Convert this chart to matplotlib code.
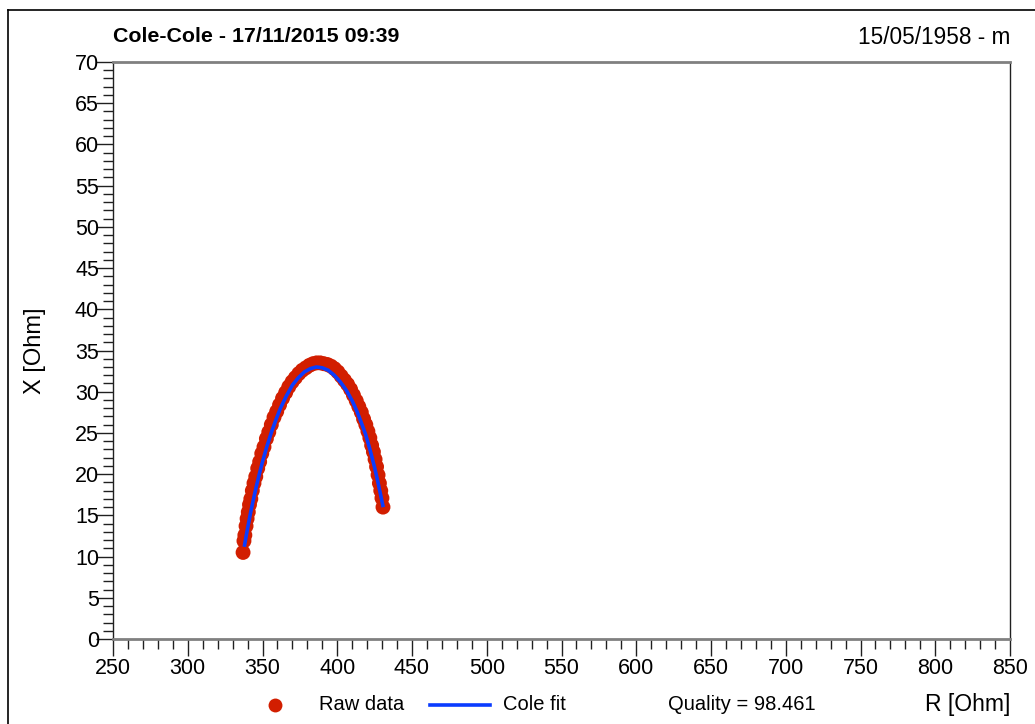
import matplotlib
matplotlib.use("Agg")
import matplotlib.pyplot as plt
from matplotlib.lines import Line2D
from matplotlib.ticker import MultipleLocator

plt.rcParams['font.family'] = ['Liberation Sans', 'DejaVu Sans']

# Measured impedance (resistance R vs reactance X), in Ohm
raw_r = [337.0, 337.6, 338.2, 339.0, 339.7, 340.5, 341.3, 342.2, 343.2, 344.3,
         345.5, 346.8, 348.1, 349.5, 351.0, 352.6, 354.2, 355.9, 357.7, 359.5,
         361.4, 363.4, 365.5, 367.6, 369.8, 372.0, 374.3, 376.6, 379.0, 381.4,
         383.8, 386.2, 388.6, 391.0, 393.4, 395.8, 398.1, 400.4, 402.6, 404.8,
         406.9, 408.9, 410.8, 412.7, 414.4, 416.1, 417.6, 419.1, 420.5, 421.8,
         423.0, 424.2, 425.3, 426.3, 427.3, 428.2, 429.1, 429.9, 430.6]
raw_x = [10.5, 11.9, 12.6, 13.7, 14.6, 15.4, 16.3, 17.0, 18.0, 18.9,
         19.7, 20.7, 21.5, 22.5, 23.3, 24.3, 25.1, 26.0, 26.9, 27.6,
         28.4, 29.2, 29.9, 30.6, 31.2, 31.7, 32.2, 32.6, 32.9, 33.2,
         33.4, 33.5, 33.5, 33.4, 33.3, 33.1, 32.8, 32.4, 31.9, 31.4,
         30.9, 30.3, 29.6, 28.9, 28.2, 27.5, 26.7, 26.0, 25.2, 24.4,
         23.5, 22.7, 21.8, 20.9, 19.9, 18.9, 18.0, 17.1, 16.0]

# Cole model fit through the measured points
fit_r = [338.0, 339.0, 340.0, 342.0, 344.0, 346.0, 348.0, 350.0, 353.0, 356.0,
         359.0, 362.0, 366.0, 370.0, 374.0, 378.0, 382.0, 386.0, 390.0, 394.0,
         398.0, 402.0, 406.0, 410.0, 413.0, 416.0, 419.0, 422.0, 425.0, 427.0,
         429.0, 430.5]
fit_x = [11.4, 12.4, 13.4, 15.3, 17.0, 18.6, 20.1, 21.5, 23.4, 25.1,
         26.6, 28.0, 29.5, 30.8, 31.7, 32.4, 32.8, 33.0, 32.9, 32.6,
         32.0, 31.2, 30.2, 28.9, 27.7, 26.3, 24.8, 22.9, 20.8, 19.2,
         17.5, 16.2]

quality = 98.461
title_left = "Cole-Cole - 17/11/2015 09:39"
title_right = "15/05/1958 - m"

W, H = 1035, 724
fig = plt.figure(figsize=(W / 100, H / 100), dpi=100)

# outer frame (top and left edges)
fig.add_artist(Line2D([8 / W, 1.0], [1 - 10 / H, 1 - 10 / H], color='black', lw=1.2,
                      transform=fig.transFigure))
fig.add_artist(Line2D([8 / W, 8 / W], [0.0, 1 - 10 / H], color='black', lw=1.2,
                      transform=fig.transFigure))

ax = fig.add_axes([113 / W, 1 - 639 / H, (1010 - 113) / W, (639 - 62) / H])

red = '#d21e00'
blue = '#0a3cff'

ax.scatter(raw_r, raw_x, s=115, color=red, edgecolors='none', zorder=3)
ax.plot(fit_r, fit_x, color=blue, lw=2.6, zorder=4)

ax.set_xlim(250, 850)
ax.set_ylim(0, 70)
ax.xaxis.set_major_locator(MultipleLocator(50))
ax.xaxis.set_minor_locator(MultipleLocator(10))
ax.yaxis.set_major_locator(MultipleLocator(5))
ax.yaxis.set_minor_locator(MultipleLocator(1))

ax.tick_params(axis='both', which='major', length=12, width=1, color='#202020',
               labelsize=15.5, direction='out')
ax.tick_params(axis='both', which='minor', length=7, width=1, color='#202020',
               direction='out')
ax.tick_params(axis='x', which='major', pad=2)
ax.tick_params(axis='y', which='major', pad=-2)

ax.spines['top'].set_color('#808080')
ax.spines['top'].set_linewidth(2)
ax.spines['bottom'].set_color('#808080')
ax.spines['bottom'].set_linewidth(2)
ax.spines['left'].set_color('#202020')
ax.spines['left'].set_linewidth(1)
ax.spines['right'].set_color('#202020')
ax.spines['right'].set_linewidth(1)

ax.set_ylabel("X [Ohm]", fontsize=17)
ax.yaxis.set_label_coords((46 - 113) / 897, 0.5)

fig.text(113 / W, 1 - 37 / H, title_left, fontsize=15.4, fontweight='bold',
         ha='left', va='center')
fig.text(1010 / W, 1 - 37 / H, title_right, fontsize=16.3, ha='right', va='center')

# legend row along the bottom
ly = 1 - 705 / H
fig.add_artist(Line2D([275 / W], [ly], marker='o', markersize=10, color=red,
                      markeredgewidth=0, transform=fig.transFigure))
fig.text(319 / W, ly, "Raw data", fontsize=14.5, ha='left', va='center')
fig.add_artist(Line2D([430 / W, 490 / W], [ly, ly], color=blue, lw=2.6,
                      transform=fig.transFigure))
fig.text(503 / W, ly, "Cole fit", fontsize=14.5, ha='left', va='center')
fig.text(668 / W, ly, f"Quality = {quality:.3f}", fontsize=14.5, ha='left', va='center')
fig.text(1010 / W, ly, "R [Ohm]", fontsize=16.5, ha='right', va='center')

fig.savefig("out.png", dpi=100)
